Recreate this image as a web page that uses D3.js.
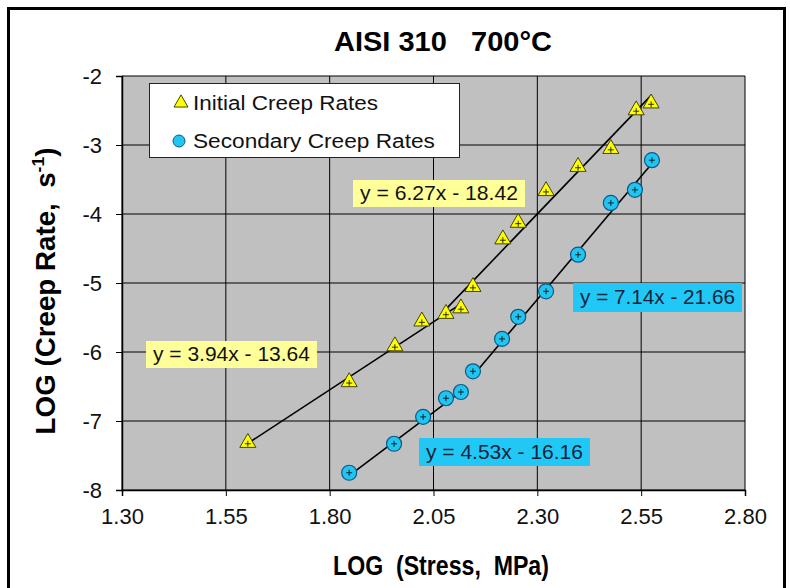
<!DOCTYPE html>
<html><head><meta charset="utf-8">
<script src="https://cdn.jsdelivr.net/npm/d3@7"></script>
<style>body{margin:0;background:#fff}svg{display:block}text{font-family:"Liberation Sans",Arial,sans-serif}</style>
</head><body>
<svg id="c" width="790" height="588"></svg>
<script>
// ---- data ----
const xTicks = [1.30, 1.55, 1.80, 2.05, 2.30, 2.55, 2.80];
const yTicks = [-8, -7, -6, -5, -4, -3, -2];
const initialX = [1.603, 1.847, 1.957, 2.022, 2.080, 2.116, 2.145, 2.217, 2.254, 2.321, 2.398, 2.477, 2.538, 2.574];
const initialY = [-7.33, -6.45, -5.93, -5.57, -5.46, -5.38, -5.07, -4.38, -4.14, -3.68, -3.33, -3.07, -2.51, -2.41];
const secondaryX = [1.847, 1.955, 2.025, 2.080, 2.116, 2.145, 2.215, 2.254, 2.321, 2.398, 2.477, 2.535, 2.576];
const secondaryY = [-7.75, -7.33, -6.94, -6.67, -6.58, -6.28, -5.81, -5.49, -5.12, -4.59, -3.84, -3.65, -3.22];
// trendlines: slope, intercept, x range
const trendSlopes = [3.94, 6.27, 4.53, 7.14];
const trendIntercepts = [-13.64, -18.42, -16.16, -21.66];
const trendFrom = [1.603, 2.080, 1.847, 2.145];
const trendTo = [2.116, 2.574, 2.116, 2.576];
const trendLabels = ["y = 3.94x - 13.64", "y = 6.27x - 18.42", "y = 4.53x - 16.16", "y = 7.14x - 21.66"];
const seriesNames = ["Initial Creep Rates", "Secondary Creep Rates"];

const svg = d3.select("#c");
const x = d3.scaleLinear().domain([1.3, 2.8]).range([122, 745]);
const y = d3.scaleLinear().domain([-8, -2]).range([490, 76]);

// fit a text horizontally to a target width around its anchor
function fitX(sel, cx, cy, target, extra) {
  const w = sel.node().getBBox().width;
  const s = target / w;
  sel.attr("transform", `translate(${cx},${cy}) ${extra || ""} scale(${s},1) translate(${-cx},${-cy})`);
}

// outer frame
svg.append("rect").attr("x", 8.5).attr("y", 8.5).attr("width", 776).attr("height", 600)
  .attr("fill", "#fff").attr("stroke", "#000").attr("stroke-width", 3);

// plot area
svg.append("rect").attr("x", 122).attr("y", 76).attr("width", 623).attr("height", 414).attr("fill", "#c0c0c0");
const g = svg.append("g");
g.selectAll(".vg").data(xTicks).join("line").attr("x1", d => x(d)).attr("x2", d => x(d))
  .attr("y1", 76).attr("y2", 490).attr("stroke", "#000").attr("stroke-width", 1);
g.selectAll(".hg").data(yTicks).join("line").attr("y1", d => y(d)).attr("y2", d => y(d))
  .attr("x1", 122).attr("x2", 745).attr("stroke", "#000").attr("stroke-width", 1);

// axes
const xa = svg.append("g").attr("transform", "translate(0,490)")
  .call(d3.axisBottom(x).tickValues(xTicks).tickFormat(d3.format(".2f")).tickSize(6).tickPadding(12));
const ya = svg.append("g").attr("transform", "translate(122,0)")
  .call(d3.axisLeft(y).tickValues(yTicks).tickFormat(d => d).tickSize(6).tickPadding(14));
[xa, ya].forEach(a => {
  a.select(".domain").attr("stroke", "#000").attr("stroke-width", 1.5);
  a.selectAll(".tick line").attr("stroke", "#000");
  a.selectAll(".tick text").attr("font-size", 22).attr("fill", "#111")
    .attr("font-family", "'Liberation Sans',Arial,sans-serif");
});
xa.selectAll(".tick text").attr("dy", "0.71em");

// trendlines
trendSlopes.forEach((m, i) => {
  svg.append("line")
    .attr("x1", x(trendFrom[i])).attr("y1", y(m * trendFrom[i] + trendIntercepts[i]))
    .attr("x2", x(trendTo[i])).attr("y2", y(m * trendTo[i] + trendIntercepts[i]))
    .attr("stroke", "#000").attr("stroke-width", 1.6);
});

// markers
const tri = d3.symbol().type(d3.symbolTriangle).size(112);
const crossLen = 3;
svg.append("g").selectAll("path").data(initialX).join("path")
  .attr("d", tri).attr("transform", (d, i) => `translate(${x(d)},${y(initialY[i]) - 1})`)
  .attr("fill", "#ffff00").attr("stroke", "#44440a").attr("stroke-width", 1);
svg.append("g").selectAll("circle").data(secondaryX).join("circle")
  .attr("cx", d => x(d)).attr("cy", (d, i) => y(secondaryY[i])).attr("r", 7.5)
  .attr("fill", "#22c4f0").attr("stroke", "#0a5a8a").attr("stroke-width", 1.2);
// small plus in markers
const allPts = initialX.map((d, i) => [d, initialY[i]]).concat(secondaryX.map((d, i) => [d, secondaryY[i]]));
svg.append("g").selectAll("path").data(allPts).join("path")
  .attr("d", d => `M${x(d[0]) - crossLen},${y(d[1])}h${2 * crossLen}M${x(d[0])},${y(d[1]) - crossLen}v${2 * crossLen}`)
  .attr("stroke", "#000").attr("stroke-width", 0.8);

// equation boxes
const boxes = [
  {i: 0, x: 146, y: 341, w: 171, h: 27, fill: "#ffff99", col: "#111"},
  {i: 1, x: 353, y: 180, w: 172, h: 27, fill: "#ffff99", col: "#111"},
  {i: 2, x: 419, y: 438, w: 171, h: 28, fill: "#22c8f5", col: "#15233a"},
  {i: 3, x: 573, y: 283, w: 169, h: 29, fill: "#22c8f5", col: "#15233a"}
];
boxes.forEach(b => {
  svg.append("rect").attr("x", b.x).attr("y", b.y).attr("width", b.w).attr("height", b.h).attr("fill", b.fill);
  const t = svg.append("text").attr("x", b.x + b.w / 2).attr("y", b.y + b.h / 2 + 7).attr("text-anchor", "middle")
    .attr("font-size", 20).attr("fill", b.col).text(trendLabels[b.i]);
  fitX(t, b.x + b.w / 2, b.y + b.h / 2, b.w - 14);
});

// legend
svg.append("rect").attr("x", 149.5).attr("y", 83.5).attr("width", 310).attr("height", 74)
  .attr("fill", "#fff").attr("stroke", "#222").attr("stroke-width", 1);
svg.append("path").attr("d", d3.symbol().type(d3.symbolTriangle).size(85)())
  .attr("transform", "translate(181,103)").attr("fill", "#ffff00").attr("stroke", "#44440a");
svg.append("circle").attr("cx", 179).attr("cy", 141).attr("r", 6)
  .attr("fill", "#22c4f0").attr("stroke", "#0a5a8a");
const l1 = svg.append("text").attr("x", 193).attr("y", 110).attr("font-size", 21).attr("fill", "#111").text(seriesNames[0]);
const l2 = svg.append("text").attr("x", 193).attr("y", 148).attr("font-size", 21).attr("fill", "#111").text(seriesNames[1]);
fitX(l1, 193, 110, 185);
fitX(l2, 193, 148, 242);

// titles
const t1 = svg.append("text").attr("x", 443).attr("y", 51).attr("text-anchor", "middle").attr("font-size", 28)
  .attr("font-weight", "bold").style("white-space", "pre").text("AISI 310   700°C");
fitX(t1, 443, 51, 218);
const t2 = svg.append("text").attr("x", 441).attr("y", 575).attr("text-anchor", "middle").attr("font-size", 27)
  .attr("font-weight", "bold").style("white-space", "pre").text("LOG  (Stress,  MPa)");
fitX(t2, 441, 575, 216);
const yl = svg.append("text").attr("x", 0).attr("y", 0).attr("text-anchor", "middle")
  .attr("font-size", 27).attr("font-weight", "bold").style("white-space", "pre");
yl.append("tspan").text("LOG (Creep Rate,  s");
yl.append("tspan").attr("font-size", 17).attr("dy", -11).text("-1");
yl.append("tspan").attr("dy", 11).text(")");
const yw = yl.node().getBBox().width;
yl.attr("transform", `translate(55,291) rotate(-90) scale(${287 / yw},1)`);
</script>
</body></html>
